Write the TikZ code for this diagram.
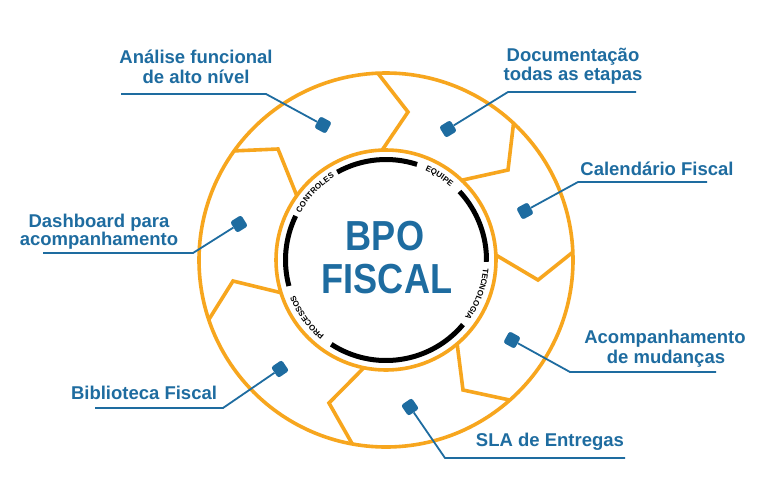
\documentclass[tikz,border=0pt]{standalone}
\usepackage{fontspec}
\usepackage{graphicx}
\setmainfont{Liberation Sans}
\usetikzlibrary{calc,decorations.text}
\definecolor{bpoorange}{RGB}{247,166,30}
\definecolor{bpoblue}{RGB}{30,108,160}
\newcommand\ringfont{\fontsize{8}{8}\selectfont\bfseries}
\begin{document}
\begin{tikzpicture}[x=1pt,y=1pt,
 sepline/.style={draw=bpoorange, line width=3.6pt, line join=miter},
 orangering/.style={draw=bpoorange, line width=3.6pt},
 blackring/.style={draw=black, line width=5pt},
 leader/.style={draw=bpoblue, line width=1.8pt},
 dot/.style={rectangle, rounded corners=2.5pt, fill=bpoblue, minimum size=13pt, inner sep=0pt},
 lbl/.style={text=bpoblue, font=\fontsize{18.5}{20}\selectfont\bfseries, anchor=base, inner sep=0pt},
 bigtxt/.style={text=bpoblue, font=\fontsize{42}{42}\selectfont\bfseries, anchor=base, inner sep=0pt},
 ringlabel/.style={decorate, decoration={text along path, text align=center, text={|\ringfont|#1}}}
]
\useasboundingbox (0,0) rectangle (768,-496);
\fill[white] (0,0) rectangle (768,-496);
\coordinate (C) at (386,-260);

% separators
\draw[sepline] ($(C)+(92:110)$) -- (408,-112) -- ($(C)+(92.5:187)$);
\draw[sepline] ($(C)+(144.2:110)$) -- (278,-149) -- ($(C)+(144.3:187)$);
\draw[sepline] ($(C)+(197.3:110)$) -- (233,-281) -- ($(C)+(198.6:187)$);
\draw[sepline] ($(C)+(258.4:110)$) -- (329,-403) -- ($(C)+(259.6:187)$);
\draw[sepline] ($(C)+(-49.7:110)$) -- (463,-390) -- ($(C)+(-48.5:187)$);
\draw[sepline] ($(C)+(2.6:110)$) -- (538,-280) -- ($(C)+(2.4:187)$);
\draw[sepline] ($(C)+(46.5:110)$) -- (508,-170) -- ($(C)+(47:187)$);

% circles
\draw[orangering] (C) circle[radius=110];
\draw[orangering] (C) circle[radius=187];

% black ring
\draw[blackring] ($(C)+(72:100.5)$) arc[start angle=72, end angle=119, radius=100.5];
\draw[blackring] ($(C)+(154:100.5)$) arc[start angle=154, end angle=195, radius=100.5];
\draw[blackring] ($(C)+(237:100.5)$) arc[start angle=237, end angle=320, radius=100.5];
\draw[blackring] ($(C)+(-1:100.5)$) arc[start angle=-1, end angle=43, radius=100.5];

% ring labels
\path[ringlabel=CONTROLES] ($(C)+(156:97.5)$) arc[start angle=156, end angle=117, radius=97.5];
\path[ringlabel=EQUIPE] ($(C)+(74:97.5)$) arc[start angle=74, end angle=41, radius=97.5];
\path[ringlabel=TECNOLOGIA] ($(C)+(1:97.5)$) arc[start angle=1, end angle=-42, radius=97.5];
\path[ringlabel=PROCESSOS] ($(C)+(239:97.5)$) arc[start angle=239, end angle=193, radius=97.5];

% center text
\node[bigtxt] (bpo) at (385,-250) {\scalebox{0.86}[1]{BPO}};
\node[bigtxt] (fiscal) at (387,-293) {\scalebox{0.86}[1]{FISCAL}};

% dots
\node[dot, rotate=61.5] (d1) at (323,-125) {};
\node[dot, rotate=31.7] (d2) at (448,-129) {};
\node[dot, rotate=28.7] (d3) at (525,-211) {};
\node[dot, rotate=32] (d4) at (239,-224) {};
\node[dot, rotate=-28.9] (d5) at (512,-340) {};
\node[dot, rotate=34.4] (d6) at (280,-369) {};
\node[dot, rotate=34.5] (d7) at (410,-407) {};

% leader coordinates
\coordinate (c1) at (266,-94);  \coordinate (e1) at (121,-94);
\coordinate (c2) at (508,-92);  \coordinate (e2) at (636,-92);
\coordinate (c3) at (578,-182); \coordinate (e3) at (707,-182);
\coordinate (c4) at (193,-253); \coordinate (e4) at (43,-253);
\coordinate (c5) at (570,-372); \coordinate (e5) at (716,-372);
\coordinate (c6) at (223,-408); \coordinate (e6) at (95,-408);
\coordinate (c7) at (445,-458); \coordinate (e7) at (625,-458);

\draw[leader] (d1) -- (c1) -- (e1);
\draw[leader] (d2) -- (c2) -- (e2);
\draw[leader] (d3) -- (c3) -- (e3);
\draw[leader] (d4) -- (c4) -- (e4);
\draw[leader] (d5) -- (c5) -- (e5);
\draw[leader] (d6) -- (c6) -- (e6);
\draw[leader] (d7) -- (c7) -- (e7);

% labels
\node[lbl] (t1a) at (196,-63) {Análise funcional};
\node[lbl] (t1b) at (196,-83) {de alto nível};
\node[lbl] (t2a) at (573,-61) {Documentação};
\node[lbl] (t2b) at (573,-80) {todas as etapas};
\node[lbl] (t3) at (657,-175) {Calendário Fiscal};
\node[lbl] (t4a) at (99,-227) {Dashboard para};
\node[lbl] (t4b) at (99,-245) {acompanhamento};
\node[lbl] (t5a) at (665,-343) {Acompanhamento};
\node[lbl] (t5b) at (666,-363) {de mudanças};
\node[lbl] (t6) at (144,-399) {Biblioteca Fiscal};
\node[lbl] (t7) at (550,-446) {SLA de Entregas};
\end{tikzpicture}
\end{document}
